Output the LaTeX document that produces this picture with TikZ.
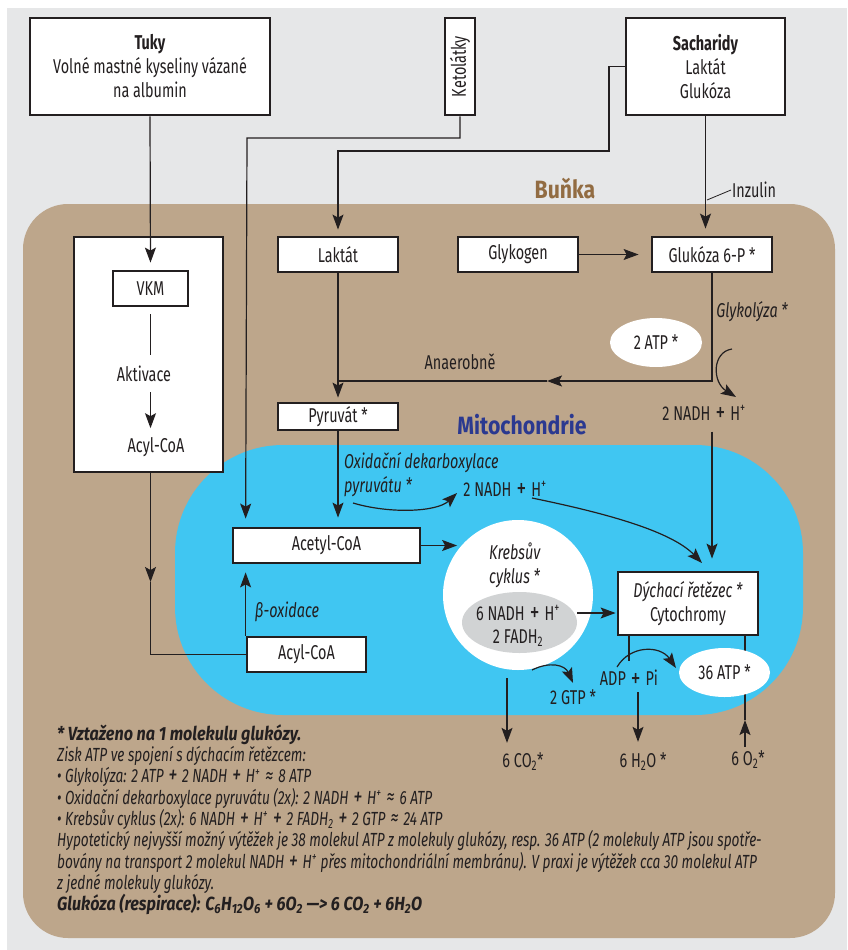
\documentclass[tikz,border=0pt]{standalone}
\usepackage{fontspec}
\setmainfont{Fira Sans}[FakeStretch=0.72]
\newfontfamily\headfont{Fira Sans}[FakeStretch=0.85]
\usepackage{graphicx}
\usepackage{tikz}
\definecolor{ink}{RGB}{35,31,32}
\definecolor{paper}{RGB}{230,231,232}
\definecolor{cellbrown}{RGB}{189,166,139}
\definecolor{bunkatext}{RGB}{146,108,66}
\definecolor{mitoblue}{RGB}{64,198,242}
\definecolor{mitotext}{RGB}{43,57,144}
\definecolor{krebsgrey}{RGB}{209,211,212}
\newcommand{\mainsize}{\fontsize{20}{24}\selectfont}
\newcommand{\notesize}{\fontsize{19}{21}\selectfont}
\newcommand{\subx}[1]{\textsubscript{#1}}
\newcommand{\hplus}{H\textsuperscript{+}}
\newcommand{\pl}{\kern0.06em\smash{\raisebox{-0.07em}{\scalebox{1.35}{+}}}\kern0.06em}
\newcommand{\ap}{\kern0.08em\smash{\raisebox{-0.05em}{\scalebox{1.2}{≈}}}\kern0.08em}
\usetikzlibrary{arrows.meta, shapes.geometric, calc}

\begin{document}
\begin{tikzpicture}[x=1pt, y=-1pt, font=\mainsize, text=ink,
    box/.style={draw=ink, line width=2.8pt, fill=white, inner sep=0pt, align=center},
    bubble/.style={ellipse, fill=white, inner sep=0pt},
    link/.style={draw=ink, line width=1.2pt},
    arr/.style={link, -{Stealth[length=15pt, width=11pt, inset=3pt]}},
    lbl/.style={inner sep=1pt},
    noteline/.style={inner sep=0pt, anchor=base west, font=\notesize\itshape}]
    \useasboundingbox (0,0) rectangle (847,950);

    % Background, cell and mitochondrion
    \fill[paper] (7,8) rectangle (847,950);
    \fill[cellbrown, rounded corners=45pt] (23,204) rectangle (835,938);
    \fill[mitoblue, rounded corners=108pt] (175,445) rectangle (803,715);
    \node[font=\headfont\fontsize{25}{30}\selectfont\bfseries, text=bunkatext] (bunka) at (565,189) {Buňka};
    \node[font=\headfont\fontsize{25}{30}\selectfont\bfseries, text=mitotext] (mito) at (522,425) {Mitochondrie};

    % Sources
    \node[box, minimum width=240pt, minimum height=97pt] (tuky) at (150,66.5)
        {\textbf{Tuky}\\Volné mastné kyseliny vázané\\na albumin};
    \node[box, minimum width=30pt, minimum height=97pt] (keto) at (460,66.5) {\rotatebox{90}{Ketolátky}};
    \node[box, minimum width=159pt, minimum height=97pt] (sach) at (705.5,66.5)
        {\textbf{Sacharidy}\\Laktát\\Glukóza};

    % Fatty acids
    \node[box, minimum width=149pt, minimum height=235pt] (fabox) at (148.5,354.5) {};
    \node[box, minimum width=75pt, minimum height=35pt] (vkm) at (150.5,288.5) {VKM};
    \node[lbl] (akt) at (144,374) {Aktivace};
    \node[lbl] (acylt) at (156,447) {Acyl-CoA};

    % Glucose side
    \node[box, minimum width=120pt, minimum height=35pt] (lakt) at (338,254.5) {Laktát};
    \node[box, minimum width=120pt, minimum height=27pt] (pyr) at (338,416.5) {Pyruvát *};
    \node[box, minimum width=120pt, minimum height=35pt] (glyk) at (518,254.5) {Glykogen};
    \node[box, minimum width=120pt, minimum height=35pt] (glu6p) at (712,254.5) {Glukóza 6-P *};
    \node[lbl, anchor=west] (inz) at (731,190) {Inzulin};
    \node[lbl] (anaer) at (460,362) {Anaerobně};
    \node[lbl, font=\mainsize\itshape] (glykol) at (752,312) {Glykolýza *};
    \node[bubble, minimum width=92pt, minimum height=49pt] (atp2) at (656,342.5) {2 ATP *};
    \node[lbl] (nadh1) at (704,413) {2 NADH \pl{} \hplus};

    % Inside the mitochondrion
    \node[box, minimum width=187pt, minimum height=35pt] (acetyl) at (326.5,545.5) {Acetyl-CoA};
    \node[box, minimum width=119pt, minimum height=35pt] (acylm) at (306.5,654.5) {Acyl-CoA};
    \node[lbl, font=\mainsize\itshape] (betaox) at (287,612) {β-oxidace};
    \node[lbl, anchor=west, align=left, font=\mainsize\itshape] (oxid) at (343,475)
        {Oxidační dekarboxylace\\pyruvátu *};
    \node[lbl] (nadh2) at (505,489) {2 NADH \pl{} \hplus};
    \node[circle, fill=white, minimum size=150pt, inner sep=0pt] (krebs) at (518,595) {};
    \node[lbl, anchor=west, align=left, font=\mainsize\itshape] (krebst) at (488,565) {Krebsův\\cyklus *};
    \node[ellipse, fill=krebsgrey, minimum width=115pt, minimum height=61pt, inner sep=0pt] (grey) at (519.5,622.5) {};
    \node[lbl] (kn1) at (518,613) {6 NADH \pl{} \hplus};
    \node[lbl] (kn2) at (518,638) {2 FADH\subx{2}};
    \node[box, minimum width=140pt, minimum height=63pt] (dych) at (688,603.5)
        {\textit{Dýchací řetězec *}\\Cytochromy};
    \node[lbl] (adp) at (629,678) {ADP \pl{} Pi};
    \node[lbl] (gtp) at (573,697) {2 GTP *};
    \node[lbl] (co2) at (523,762) {6 CO\subx{2}*};
    \node[lbl] (h2o) at (643,762) {6 H\subx{2}O *};
    \node[lbl] (o2) at (748,760) {6 O\subx{2}*};

    % Connectors from the sources
    \draw[arr, shorten >=7pt] (tuky.south) -- (vkm.north);
    \draw[arr, shorten >=8pt] (keto.south) |- (247,138) -- (acetyl.north -| acylm.west);
    \draw[arr, shorten >=6pt] (sach.west) -| (609,151) -| (lakt.north);
    \draw[arr, shorten >=7pt] (sach.south) -- (sach.south |- glu6p.north);
    \draw[link, line width=0.8pt] (707,200) -- (inz.west);

    % Fatty acids to the mitochondrion
    \draw[link, shorten <=7pt, shorten >=10pt] (vkm.south) -- (vkm.south |- akt.north);
    \draw[arr, shorten <=9pt, shorten >=8pt] (vkm.south |- akt.south) -- (vkm.south |- acylt.north);
    \coordinate (fadrop) at (150.5,582);
    \draw[arr] (fabox.south -| vkm) -- (fadrop);
    \draw[link] (fadrop) |- (acylm.west);
    \draw[arr, shorten >=8pt] (acylm.north west) -- (acylm.north west |- acetyl.south);

    % Glucose, glycolysis and lactate
    \draw[arr, shorten >=12pt] (glyk.east) -- (glu6p.west);
    \coordinate (anmid) at (547,381);
    \coordinate (anjoin) at (338,381);
    \draw[arr] (glu6p.south) |- (anmid);
    \draw[link] (anmid) -- (anjoin);
    \draw[arr, shorten >=4pt] (lakt.south) -- (pyr.north);
    \draw[arr] (732,349) .. controls (712,352) and (712,382) .. (736,397);
    \draw[arr, shorten <=10pt, shorten >=12pt] (glu6p.south |- nadh1.south) -- (glu6p.south |- dych.north);

    % Pyruvate and Krebs cycle
    \draw[arr, shorten >=9pt] (pyr.south) -- (pyr.south |- acetyl.north);
    \draw[arr] (353,503) .. controls (390,514) and (437,512) .. (457,493);
    \draw[arr] (532,498) .. controls (600,512) and (670,530) .. (702,563);
    \draw[arr, shorten >=5pt] (acetyl.east) -- (acetyl.east -| krebs.138);
    \draw[arr, shorten >=1pt] (kn1 -| grey.east) -- (kn1 -| dych.west);
    \draw[arr] (532,670) .. controls (550,661) and (565,665) .. (573,683);
    \draw[arr, shorten >=9pt] ([xshift=-11pt,yshift=-8pt]krebs.south) -- ([xshift=-11pt]krebs.south |- co2.north);

    % Respiratory chain
    \draw[link, shorten >=8pt] (dych.south -| adp) -- (adp.north);
    \draw[arr] (617,667) .. controls (630,645) and (660,645) .. (676,668);
    \draw[arr, shorten <=5pt, shorten >=10pt] ([xshift=9pt]adp.south) -- ([xshift=9pt]adp.south |- h2o.north);
    \coordinate (o2up) at (745,720);
    \draw[arr, shorten <=3pt] (o2.north -| o2up) -- (o2up);
    \draw[link] (o2up) -- (o2up |- dych.south);
    \node[bubble, minimum width=91pt, minimum height=49pt] (atp36) at (724.5,672.5) {36 ATP *};

    % Note
    \node[noteline, font=\headfont\notesize\bfseries\itshape] (note1) at (57,740) {* Vztaženo na 1 molekulu glukózy.};
    \node[noteline] (note2) at (57,761) {Zisk ATP ve spojení s dýchacím řetězcem:};
    \node[noteline] (note3) at (57,782.5) {• Glykolýza: 2 ATP \pl{} 2 NADH \pl{} \hplus{} \ap{} 8 ATP};
    \node[noteline] (note4) at (57,804) {• Oxidační dekarboxylace pyruvátu (2x): 2 NADH \pl{} \hplus{} \ap{} 6 ATP};
    \node[noteline] (note5) at (57,825) {• Krebsův cyklus (2x): 6 NADH \pl{} \hplus{} \pl{} 2 FADH\subx{2} \pl{} 2 GTP \ap{} 24 ATP};
    \node[noteline] (note6) at (57,846.5) {Hypotetický nejvyšší možný výtěžek je 38 molekul ATP z molekuly glukózy, resp. 36 ATP (2 molekuly ATP jsou spotře-};
    \node[noteline] (note7) at (57,868) {bovány na transport 2 molekul NADH \pl{} \hplus{} přes mitochondriální membránu). V praxi je výtěžek cca 30 molekul ATP};
    \node[noteline] (note8) at (57,889) {z jedné molekuly glukózy.};
    \node[noteline, font=\headfont\notesize\bfseries\itshape] (note9) at (57,910.5)
        {Glukóza (respirace): C\subx{6}H\subx{12}O\subx{6} + 6O\subx{2} —> 6 CO\subx{2} + 6H\subx{2}O};
\end{tikzpicture}
\end{document}
